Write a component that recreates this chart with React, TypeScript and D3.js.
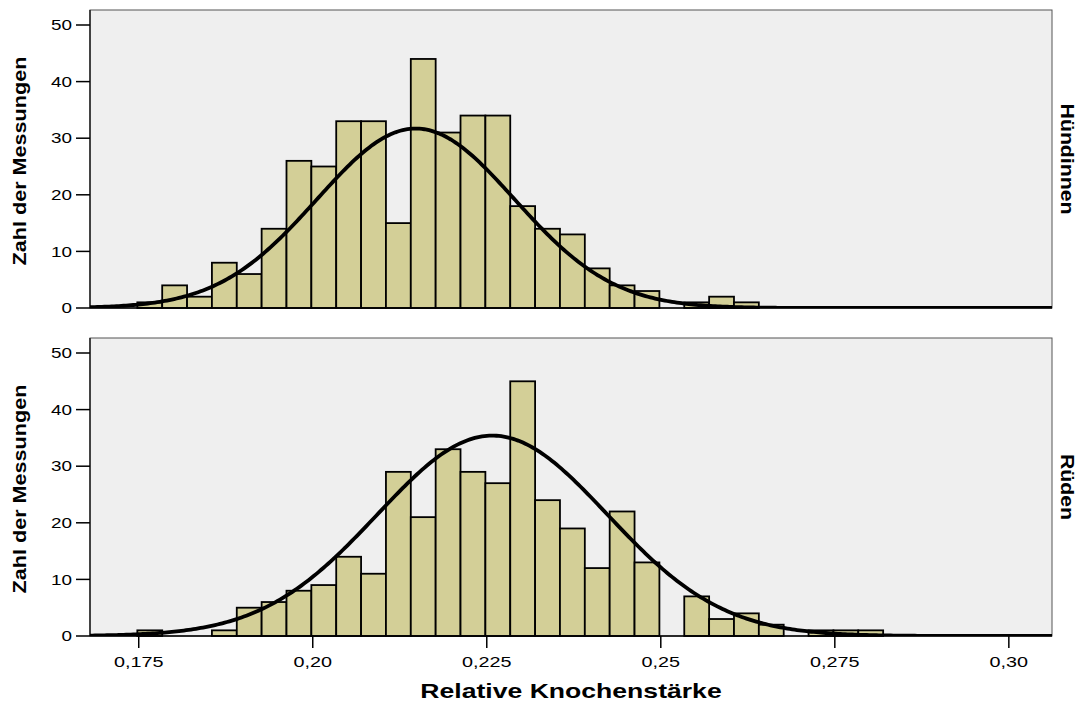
import { line, range, scaleLinear } from 'd3'

// histogram bins: width 0.025/7, first edge just before 0,175
const binStart = 0.1748
const binWidth = 0.025 / 7

const femaleCounts = [1, 4, 2, 8, 6, 14, 26, 25, 33, 33, 15, 44, 31, 34, 34, 18, 14, 13, 7, 4, 3, 0, 1, 2, 1]
const maleCounts = [1, 0, 0, 1, 5, 6, 8, 9, 14, 11, 29, 21, 33, 29, 27, 45, 24, 19, 12, 22, 13, 0, 7, 3, 4, 2, 0, 1, 1, 1]

// fitted normal curves (mean, sd, expected count at the peak)
const femaleFit = [0.2148, 0.01418, 31.7]
const maleFit = [0.2258, 0.01652, 35.4]

const panelLabels = ['Hündinnen', 'Rüden']

const xTicks = [0.175, 0.2, 0.225, 0.25, 0.275, 0.3]
const xTickLabels = ['0,175', '0,20', '0,225', '0,25', '0,275', '0,30']
const yTicks = [0, 10, 20, 30, 40, 50]

const FONT = '"Liberation Sans", Arial, sans-serif'

const left = 90
const right = 1052
const panelTops = [10, 338]
const panelHeight = 298

const x = scaleLinear().domain([0.168, 0.3062]).range([left, right])

function Panel({ idx, counts, fit, label }: { idx: number; counts: number[]; fit: number[]; label: string }) {
  const top = panelTops[idx]
  const bottom = top + panelHeight
  const y = scaleLinear().domain([0, 52.65]).range([bottom, top])
  const [mean, sd, peak] = fit

  const samples = range(0, 401).map((i) => x.domain()[0] + (i / 400) * (x.domain()[1] - x.domain()[0]))
  const curve = line<number>()
    .x((v) => x(v))
    .y((v) => y(peak * Math.exp(-((v - mean) ** 2) / (2 * sd * sd))))

  const clipId = 'clip' + idx
  const mid = top + panelHeight / 2

  return (
    <g>
      <defs>
        <clipPath id={clipId}>
          <rect x={left} y={top} width={right - left} height={panelHeight} />
        </clipPath>
      </defs>
      <rect x={left} y={top} width={right - left} height={panelHeight} fill="#efefef" stroke="#555" strokeWidth={1} />
      <line x1={left} x2={left} y1={top} y2={bottom} stroke="#222" strokeWidth={1.5} />

      {/* bars */}
      {counts.map((c, i) =>
        c > 0 ? (
          <rect
            key={i}
            x={x(binStart + i * binWidth)}
            y={y(c)}
            width={x(binStart + (i + 1) * binWidth) - x(binStart + i * binWidth)}
            height={y(0) - y(c)}
            fill="#d3cf97"
            stroke="#000"
            strokeWidth={1.8}
          />
        ) : null
      )}

      <line x1={left} x2={right} y1={bottom} y2={bottom} stroke="#000" strokeWidth={1.5} />

      {/* normal curve */}
      <path d={curve(samples) ?? ''} fill="none" stroke="#000" strokeWidth={3.8} clipPath={`url(#${clipId})`} />

      {/* y axis */}
      {yTicks.map((t) => (
        <g key={t}>
          <line x1={76} x2={left} y1={y(t)} y2={y(t)} stroke="#000" strokeWidth={1.5} />
          <text
            transform={`translate(72,${y(t) + 5.3}) scale(1.26,1)`}
            textAnchor="end"
            fontFamily={FONT}
            fontSize={15}
            fill="#000"
          >
            {t}
          </text>
        </g>
      ))}

      <text
        transform={`translate(26,${mid + 2}) rotate(-90) scale(1.2,1)`}
        textAnchor="middle"
        fontFamily={FONT}
        fontWeight="bold"
        fontSize={18}
        fill="#000"
      >
        Zahl der Messungen
      </text>

      <text
        transform={`translate(1061,${mid}) rotate(90) scale(1.18,1)`}
        textAnchor="middle"
        fontFamily={FONT}
        fontWeight="bold"
        fontSize={18}
        fill="#000"
      >
        {label}
      </text>
    </g>
  )
}

export default function App() {
  const axisY = panelTops[1] + panelHeight
  return (
    <svg
      width={1084}
      height={703}
      style={{ position: 'absolute', left: 0, top: 0, background: '#fff' }}
    >
      <Panel idx={0} counts={femaleCounts} fit={femaleFit} label={panelLabels[0]} />
      <Panel idx={1} counts={maleCounts} fit={maleFit} label={panelLabels[1]} />

      {/* x axis */}
      {xTicks.map((t, i) => (
        <g key={t}>
          <line x1={x(t)} x2={x(t)} y1={axisY} y2={axisY + 12} stroke="#000" strokeWidth={1.5} />
          <text
            transform={`translate(${x(t)},666.5) scale(1.32,1)`}
            textAnchor="middle"
            fontFamily={FONT}
            fontSize={15}
            fill="#000"
          >
            {xTickLabels[i]}
          </text>
        </g>
      ))}

      <text
        transform={`translate(${(left + right) / 2},698) scale(1.33,1)`}
        textAnchor="middle"
        fontFamily={FONT}
        fontWeight="bold"
        fontSize={20}
        fill="#000"
      >
        Relative Knochenstärke
      </text>
    </svg>
  )
}
